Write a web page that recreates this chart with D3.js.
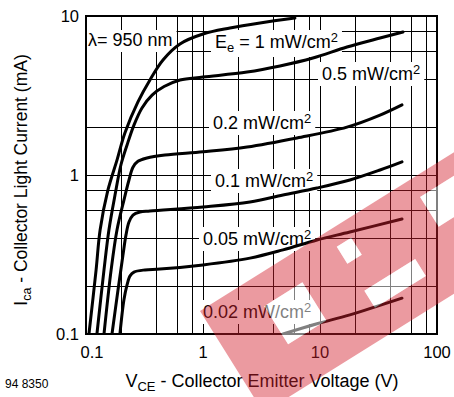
<!DOCTYPE html>
<html>
<head>
<meta charset="utf-8">
<script src="https://cdn.jsdelivr.net/npm/d3@7"></script>
<style>
  body { margin: 0; background: #fff; }
  text { font-family: "Liberation Sans", Arial, Helvetica, sans-serif; fill: #000; }
</style>
</head>
<body>
<div id="chart"></div>
<script>
// curves: [V_CE (V), I_ca (mA)]
const ee1 = [[0.106,0.1],[0.122,0.253],[0.132,0.451],[0.154,0.805],[0.184,1.24],[0.215,1.84],[0.278,2.88],
             [0.352,3.96],[0.455,5.29],[0.636,6.67],[1,7.7],[1.7,8.4],[3.07,9.04],[6.1,9.71]];
const ee05 = [[0.124,0.1],[0.1425,0.253],[0.157,0.451],[0.177,0.748],[0.199,1.16],[0.224,1.54],[0.257,2.06],
              [0.301,2.64],[0.367,3.18],[0.465,3.6],[0.636,3.96],[1,4.13],[2.38,4.44],[4.55,4.85],[8.7,5.44],
              [17,6.38],[32.6,7.27],[51.2,7.93]];
const ee02 = [[0.1425,0.1],[0.164,0.253],[0.184,0.451],[0.211,0.696],[0.233,0.93],[0.252,1.12],[0.278,1.22],
              [0.332,1.28],[0.473,1.336],[1,1.40],[2.38,1.50],[6.36,1.71],[17,2.0],[32.6,2.38],[50.2,2.76]];
const ee01 = [[0.1668,0.1],[0.1877,0.189],[0.207,0.314],[0.2197,0.42],[0.233,0.506],[0.252,0.56],[0.289,0.585],
              [0.352,0.594],[1,0.629],[2.52,0.676],[4.83,0.748],[9.43,0.828],[18,0.93],[32.6,1.075],[50.2,1.21]];
const ee005 = [[0.195,0.1],[0.211,0.164],[0.224,0.203],[0.238,0.232],[0.257,0.245],[0.319,0.253],[0.429,0.256],
               [1,0.272],[2.52,0.30],[4.83,0.338],[9.43,0.39],[18,0.438],[50.2,0.529]];
const ee002 = [[4.83,0.1],[9.43,0.116],[18,0.132],[50.2,0.168]];

const xTicks = [0.1, 1, 10, 100];
const yTicks = [0.1, 1, 10];
const xGrid = [0.2,0.4,0.6,0.8,1,2,4,6,8,10,20,40,60,80];
const yGrid = [0.2,0.4,0.6,0.8,1,2,4,6,8];

// label text: [main, sub, rest, sup]
const curveLabels = [
  ['E', 'e', ' = 1 mW/cm', '2'],
  ['', '', '0.5 mW/cm', '2'],
  ['', '', '0.2 mW/cm', '2'],
  ['', '', '0.1 mW/cm', '2'],
  ['', '', '0.05 mW/cm', '2'],
  ['', '', '0.02 mW/cm', '2']
];
const labelPos = [[215,48],[322,80],[213,129],[215,187],[203,245],[203,318]];

const W = 454, H = 397;
const svg = d3.select('#chart').append('svg').attr('width', W).attr('height', H);

const x = d3.scaleLog().domain([0.1, 100]).range([86, 437]);
const y = d3.scaleLog().domain([0.1, 10]).range([334, 16]);

svg.append('clipPath').attr('id', 'plot')
   .append('rect').attr('x', 86).attr('y', 16).attr('width', 351).attr('height', 318);

// grid
const grid = svg.append('g').attr('stroke', '#000').attr('stroke-width', 1);
grid.selectAll('.gx').data(xGrid).enter().append('line')
    .attr('x1', d => Math.round(x(d)) + 0.5).attr('x2', d => Math.round(x(d)) + 0.5)
    .attr('y1', y(10)).attr('y2', y(0.1));
grid.selectAll('.gy').data(yGrid).enter().append('line')
    .attr('y1', d => Math.round(y(d)) + 0.5).attr('y2', d => Math.round(y(d)) + 0.5)
    .attr('x1', x(0.1)).attr('x2', x(100));

// label boxes + text
const boxes = svg.append('g');
const curvesG = svg.append('g').attr('clip-path', 'url(#plot)');
const labelsG = svg.append('g');

function addLabel(g, px, py, parts, size) {
  const t = g.append('text').attr('x', px).attr('y', py).style('font-size', size + 'px');
  if (parts[0]) t.append('tspan').text(parts[0]);
  if (parts[1]) t.append('tspan').attr('dy', 4).style('font-size', (size * 0.72) + 'px').text(parts[1]);
  t.append('tspan').attr('dy', parts[1] ? -4 : 0).text(parts[2]);
  if (parts[3]) t.append('tspan').attr('dy', -6).style('font-size', (size * 0.72) + 'px').text(parts[3]);
  return t;
}

addLabel(labelsG, 88, 46, ['', '', '\u03bb= 950 nm', ''], 18);
curveLabels.forEach((p, i) => addLabel(labelsG, labelPos[i][0], labelPos[i][1], p, 18));

labelsG.selectAll('text').each(function() {
  const b = this.getBBox();
  boxes.append('rect').attr('x', b.x - 4).attr('y', b.y).attr('width', b.width + 8).attr('height', b.height + 2)
       .attr('fill', '#fff');
});

// curves
const line = d3.line().x(d => x(d[0])).y(d => y(d[1])).curve(d3.curveCatmullRom.alpha(0.5));
[ee1, ee05, ee02, ee01, ee005, ee002].forEach(s => {
  curvesG.append('path').attr('d', line(s)).attr('fill', 'none')
         .attr('stroke', '#000').attr('stroke-width', 3).attr('stroke-linecap', 'round');
});

// frame
svg.append('rect').attr('x', 86).attr('y', 16).attr('width', 351).attr('height', 318)
   .attr('fill', 'none').attr('stroke', '#000').attr('stroke-width', 2);

// tick labels
svg.selectAll('.xt').data(xTicks).enter().append('text')
   .attr('x', d => x(d) + (d === 0.1 ? 6 : 0)).attr('y', 358)
   .attr('text-anchor', 'middle').style('font-size', '16.5px')
   .text(d => d3.format('~g')(d));
svg.selectAll('.yt').data(yTicks).enter().append('text')
   .attr('x', 79).attr('y', d => y(d) + 6)
   .attr('text-anchor', 'end').style('font-size', '16.5px')
   .text(d => d3.format('~g')(d));

// axis titles
const xt = svg.append('text').attr('x', 262).attr('y', 387).attr('text-anchor', 'middle').style('font-size', '18px');
xt.append('tspan').text('V');
xt.append('tspan').attr('dy', 4).style('font-size', '13px').text('CE');
xt.append('tspan').attr('dy', -4).text(' - Collector Emitter Voltage (V)');

const yt = svg.append('text').attr('transform', 'translate(27,180) rotate(-90)')
              .attr('text-anchor', 'middle').style('font-size', '17.5px');
yt.append('tspan').text('I');
yt.append('tspan').attr('dy', 4).style('font-size', '12.5px').text('ca');
yt.append('tspan').attr('dy', -4).text(' - Collector Light Current (mA)');

svg.append('text').attr('x', 5).attr('y', 388).style('font-size', '12px').text('94 8350');

// watermark stamp
const wm = svg.append('g').attr('transform', 'translate(454,223) rotate(-32)');
const holes = [[-205,-30,45,45],[-112,10,60,20],[-112,-42,17,20],[-15,-40,45,35]];
let band = 'M-262,-60H140V60H-262Z';
holes.forEach(h => { band += `M${h[0]},${h[1]}h${h[2]}v${h[3]}h${-h[2]}Z`; });
wm.append('path').attr('d', band).attr('fill-rule', 'evenodd')
  .attr('fill', 'rgb(210,30,45)').attr('fill-opacity', 0.45);
wm.selectAll('.hole').data(holes).enter().append('rect')
  .attr('x', d => d[0]).attr('y', d => d[1]).attr('width', d => d[2]).attr('height', d => d[3])
  .attr('fill', '#fff').attr('fill-opacity', 0.5);
</script>
</body>
</html>
